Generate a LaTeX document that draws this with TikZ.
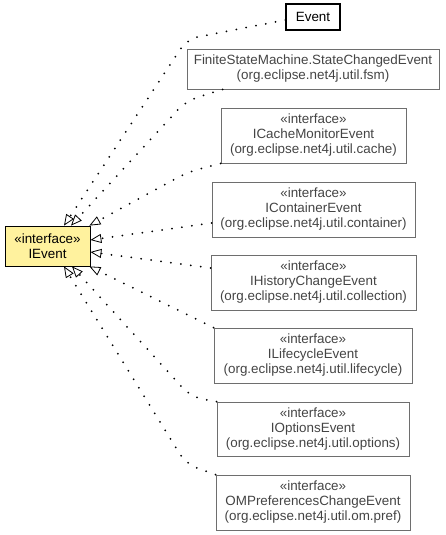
\documentclass[tikz,border=0pt]{standalone}
\usepackage{fontspec}
\setmainfont{Liberation Sans}
\usepackage{tikz}
\usetikzlibrary{arrows.meta}
\definecolor{ifacefill}{HTML}{FFF29E}
\definecolor{boxgray}{HTML}{6E6E6E}
\definecolor{textgray}{HTML}{444444}

\begin{document}
\begin{tikzpicture}[x=1pt,y=1pt,font=\fontsize{13.4}{15}\selectfont,
  cls/.style={draw=boxgray,text=textgray,line width=.8pt,align=center,inner sep=0pt,minimum height=55pt},
  impl/.style={line width=2pt,line cap=round,dash pattern=on 0pt off 10pt,rounded corners=12pt,
    -{Triangle[open,length=11pt,width=9pt,line width=.8pt]}}]
\useasboundingbox (0,0) rectangle (445,-535);
% the interface and what implements it
\node[cls,fill=ifacefill,draw=black,text=black,minimum width=85pt,minimum height=40pt] (ievent) at (47.5,-246) {«interface»\\IEvent};
\node[cls,draw=black,text=black,line width=1.2pt,minimum width=54pt,minimum height=26pt] (event) at (313,-17) {Event};
\node[cls,minimum width=252pt,minimum height=40pt] (fsm) at (313,-69) {FiniteStateMachine.StateChangedEvent\\(org.eclipse.net4j.util.fsm)};
\node[cls,minimum width=185pt] (cache) at (313.5,-135.5) {«interface»\\ICacheMonitorEvent\\(org.eclipse.net4j.util.cache)};
\node[cls,minimum width=203pt] (container) at (313.5,-209.5) {«interface»\\IContainerEvent\\(org.eclipse.net4j.util.container)};
\node[cls,minimum width=205pt] (history) at (313.5,-282.5) {«interface»\\IHistoryChangeEvent\\(org.eclipse.net4j.util.collection)};
\node[cls,minimum width=198pt] (lifecycle) at (313,-355.5) {«interface»\\ILifecycleEvent\\(org.eclipse.net4j.util.lifecycle)};
\node[cls,minimum width=192pt,minimum height=54pt] (options) at (313,-429) {«interface»\\IOptionsEvent\\(org.eclipse.net4j.util.options)};
\node[cls,minimum width=194pt] (prefs) at (313,-502.5) {«interface»\\OMPreferencesChangeEvent\\(org.eclipse.net4j.util.om.pref)};
% realizations
\draw[impl] ([yshift=-3pt]event.west) -- (187,-39) -- ([xshift=16.5pt]ievent.north);
\draw[impl] ([xshift=36pt]fsm.south west) -- (186,-101) -- ([xshift=23.5pt]ievent.north);
\draw[impl] (cache.south west) -- (188,-172) -- ([xshift=-1pt]ievent.north east);
\draw[impl] ([yshift=-13.5pt]container.west) -- ([yshift=6pt]ievent.east);
\draw[impl] ([yshift=14.5pt]history.west) -- ([yshift=-6pt]ievent.east);
\draw[impl] (lifecycle.north west) -- ([xshift=-1pt]ievent.south east);
\draw[impl] (options.north west) -- (191,-397) -- ([xshift=24.5pt]ievent.south);
\draw[impl] (prefs.north west) -- (186,-464) -- ([xshift=16.5pt]ievent.south);
\end{tikzpicture}
\end{document}
